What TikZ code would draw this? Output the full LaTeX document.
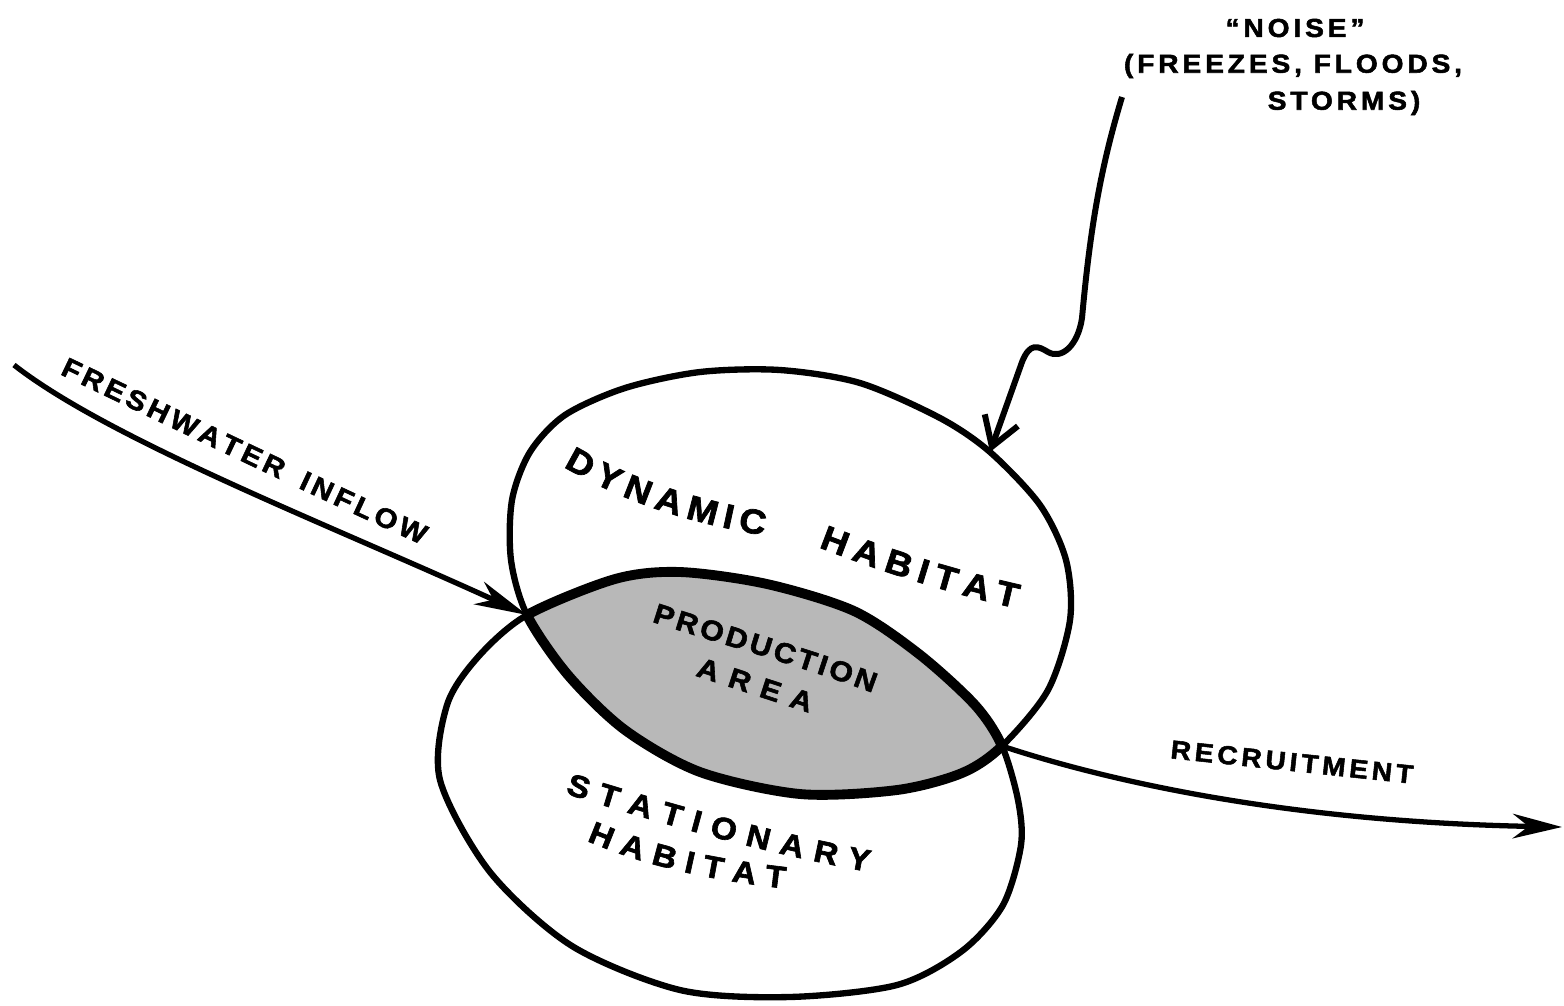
\documentclass[tikz,border=0pt]{standalone}
\usepackage{fontspec}
\usetikzlibrary{arrows.meta,decorations.text}

\newfontfamily\lbl[LetterSpace=15,FakeStretch=1.08,FakeBold=2]{Liberation Sans}
\newcommand\lblsize[1]{\lbl\bfseries\fontsize{#1}{#1}\selectfont}

\begin{document}
\begin{tikzpicture}[x=0.01cm,y=-0.01cm,
		rim/.style={line width=1.8pt},
		seam/.style={line width=2.8pt},
		flow/.style={line width=1.5pt},
		bent/.style n args={3}{decorate, decoration={text effects along path, text={#3}, text align=center,
			text effects/.cd, text along path, characters={font=\lblsize{#1}, anchor=center, inner sep=0pt},
			character widths={font=\lblsize{#1}, inner xsep=#2}}}]

		\useasboundingbox (0,0) rectangle (1564,1005);

		\coordinate (L) at (527,615);
		\coordinate (R) at (1002,746);
		\coordinate (hit) at (990,452);
		\coordinate (src) at (14,365);
		\coordinate (rain) at (1122,97);
		\coordinate (sea) at (1562,827);

		\def\dynamic{plot[smooth cycle] coordinates {(L) (511,560) (512,500) (530,452) (565,415) (625,388) (700,372) (780,370) (860,383) (940,418) (hit) (1040,505) (1066,560) (1070,620) (1048,690) (R) (962,773) (897,790) (800,794) (700,772) (625,730) (568,675)}}
		\def\stationary{plot[smooth cycle] coordinates {(L) (615,579) (680,572) (767,584) (854,611) (919,654) (975,705) (R) (1018,800) (1021,845) (1003,905) (962,951) (897,985) (789,997) (680,990) (572,946) (490,872) (440,780) (447,705) (478,657)}}

		% production area = overlap of the two habitats
		\begin{scope}
			\clip \dynamic;
			\fill[black!28] \stationary;
			\draw[seam] \stationary;
		\end{scope}
		\begin{scope}
			\clip \stationary;
			\draw[seam] \dynamic;
		\end{scope}
		\draw[rim] \dynamic;
		\draw[rim] \stationary;

		\draw[flow, -{Stealth[length=15pt,width=7pt,inset=4.5pt]}] (src) .. controls (110,440) and (330,525) .. (L);
		\draw[flow, -{Stealth[length=14pt,width=7pt,inset=4.5pt]}] (R) .. controls (1120,785) and (1300,822) .. (sea);
		\draw[flow, line width=1.7pt, -{Straight Barb[length=8pt,width=10pt]}] (rain) .. controls (1100,170) and (1090,230) .. (1082,318) .. controls (1078,345) and (1062,360) .. (1048,352) .. controls (1038,346) and (1030,342) .. (1022,362) -- (hit);

		\node (noise) at (1295,28) {\lblsize{7.4}“NOISE”};
		\node (hazards) at (1293,66) {\lblsize{7.4}(FREEZES, FLOODS,};
		\node (storms) at (1344,103) {\lblsize{7.4}STORMS)};
		\node[rotate=-6] (recruit) at (1292,762) {\lblsize{7.4}RECRUITMENT};

		\path[bent={7.8}{0.55pt}{FRESHWATER INFLOW}] (12,341) .. controls (150,406) and (340,500) .. (478,559);
		\path[bent={9.8}{0.85pt}{DYNAMIC}] (540,438) .. controls (620,492) and (700,515) .. (800,529);
		\path[bent={9.8}{1pt}{HABITAT}] (795,525) .. controls (880,560) and (960,585) .. (1048,603);
		\path[bent={8}{0.45pt}{PRODUCTION}] (620,601) .. controls (720,635) and (820,660) .. (910,697);
		\path[bent={8}{1.6pt}{AREA}] (660,654) -- (850,716);
		\path[bent={8.8}{1.5pt}{STATIONARY}] (530,771) .. controls (650,810) and (780,848) .. (910,868);
		\path[bent={8.8}{1.3pt}{HABITAT}] (555,814) .. controls (640,858) and (720,872) .. (825,882);

	\end{tikzpicture}
\end{document}
